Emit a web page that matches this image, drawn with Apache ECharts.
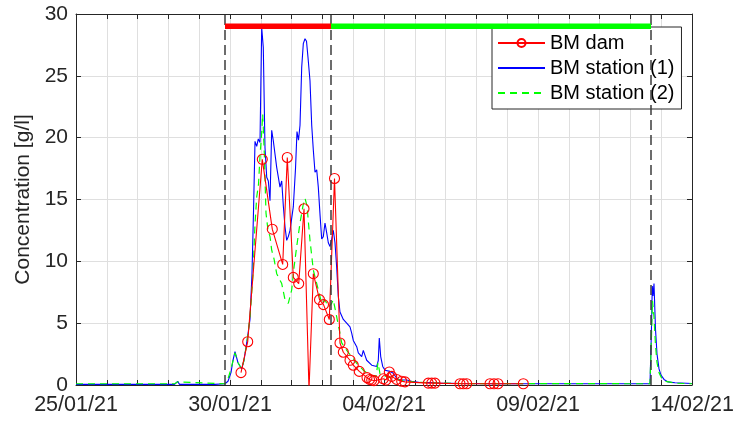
<!DOCTYPE html>
<html><head><meta charset="utf-8">
<script src="https://cdn.jsdelivr.net/npm/echarts@6/dist/echarts.min.js"></script>
<style>html,body{margin:0;padding:0;background:#fff}#c{width:737px;height:426px}</style>
</head><body><div id="c"></div>
<script>
// time values are days since 25/01/21 00:00
const xTickDays = [0, 5, 10, 15, 20];
const xTickLabels = ['25/01/21', '30/01/21', '04/02/21', '09/02/21', '14/02/21'];
const yTicks = [0, 5, 10, 15, 20, 25, 30];

const damT = [5.357, 5.575, 6.049, 6.373, 6.711, 6.860, 7.055, 7.231, 7.403, 7.565, 7.705, 7.906, 8.036, 8.224, 8.393, 8.571, 8.679, 8.896, 9.003, 9.198, 9.448, 9.529, 9.601, 9.675, 9.977, 10.065, 10.172, 10.25, 10.412, 10.575, 10.682, 11.438, 11.549, 11.656, 12.468, 12.575, 12.685, 13.442, 13.571, 13.701, 14.523];
const damV = [1.0, 3.5, 18.25, 12.6, 9.75, 18.4, 8.7, 8.2, 14.25, -0.4, 9.0, 6.9, 6.5, 5.3, 16.7, 3.4, 2.65, 2.0, 1.6, 1.1, 0.6, 0.45, 0.4, 0.35, 0.5, 0.4, 1.05, 0.7, 0.45, 0.3, 0.25, 0.15, 0.15, 0.15, 0.1, 0.1, 0.1, 0.1, 0.1, 0.1, 0.1];

const st1T = [0, 1, 2, 3.2, 3.3, 3.36, 4.5, 4.838, 4.935, 5.032, 5.097, 5.162, 5.26, 5.38, 5.455, 5.542, 5.649, 5.714, 5.763, 5.812, 5.867, 5.919, 5.974, 6.029, 6.081, 6.136, 6.192, 6.244, 6.299, 6.354, 6.406, 6.516, 6.623, 6.679, 6.731, 6.786, 6.841, 6.893, 6.948, 7.055, 7.127, 7.175, 7.224, 7.273, 7.328, 7.38, 7.435, 7.484, 7.532, 7.597, 7.653, 7.705, 7.76, 7.815, 7.867, 7.922, 7.977, 8.029, 8.084, 8.14, 8.192, 8.247, 8.302, 8.354, 8.409, 8.464, 8.516, 8.571, 8.679, 8.789, 8.896, 8.951, 9.003, 9.114, 9.166, 9.276, 9.328, 9.383, 9.438, 9.49, 9.601, 9.763, 9.815, 9.847, 9.893, 9.958, 10.032, 10.195, 10.302, 10.412, 10.519, 10.737, 10.951, 11.169, 11.494, 11.818, 12.468, 13.766, 15.065, 16.364, 17.65, 17.695, 17.74, 18.636, 18.679, 18.711, 18.734, 18.766, 18.815, 18.864, 18.929, 18.994, 19.091, 19.221, 19.448, 20];
const st1V = [0.05, 0.05, 0.05, 0.05, 0.3, 0.05, 0.05, 0.1, 0.3, 1.0, 2.0, 2.7, 1.8, 1.3, 2.0, 3.4, 5.3, 9, 14, 19.7, 19.3, 19.9, 19.6, 28.9, 27.3, 19.2, 16.8, 16.5, 14.9, 20.6, 19.75, 17.6, 16.0, 16.5, 14.5, 12.8, 11.7, 12.0, 12.5, 14.4, 17.5, 20.5, 19.8, 21, 25.7, 27.6, 28.0, 27.8, 26.5, 24.6, 21, 19.0, 17.2, 17.4, 16.0, 13.8, 11.8, 12.0, 13.1, 12.3, 11.5, 11.2, 11.8, 12.5, 11.5, 9.5, 7.2, 5.9, 5.3, 5.0, 4.7, 4.2, 3.6, 3.1, 2.6, 2.3, 2.8, 2.4, 2.0, 1.9, 1.6, 1.5, 2.0, 3.8, 2.3, 1.5, 1.2, 1.1, 0.95, 0.55, 0.4, 0.4, 0.27, 0.2, 0.2, 0.15, 0.12, 0.1, 0.1, 0.1, 0.1, 0.25, 0.1, 0.1, 4, 8.0, 7.2, 8.2, 4.5, 2.5, 1.3, 0.8, 0.45, 0.25, 0.18, 0.12];

const st2T = [0, 3.2, 3.3, 3.36, 4.838, 4.935, 5.032, 5.162, 5.26, 5.38, 5.455, 5.552, 5.649, 5.747, 5.812, 5.867, 5.925, 5.974, 6.029, 6.062, 6.114, 6.169, 6.234, 6.299, 6.354, 6.429, 6.516, 6.568, 6.679, 6.786, 6.893, 7.003, 7.078, 7.166, 7.273, 7.37, 7.435, 7.5, 7.597, 7.705, 7.76, 7.867, 7.977, 8.084, 8.192, 8.302, 8.354, 8.464, 8.549, 8.627, 8.789, 8.951, 9.114, 9.328, 9.545, 9.74, 9.805, 9.87, 10.087, 10.519, 10.94, 11.494, 12.468, 18.636, 18.679, 18.718, 18.766, 18.815, 18.864, 18.929, 19.026, 19.156, 19.448, 20];
const st2V = [0.1, 0.1, 0.25, 0.1, 0.1, 0.5, 1.3, 2.6, 1.8, 1.3, 2.0, 3.5, 5.5, 9, 13, 15.2, 16.2, 18.5, 20.4, 21.9, 18.7, 13.9, 12.5, 12.0, 10.9, 10.2, 9.0, 9.0, 8.2, 6.9, 6.6, 7.7, 9.5, 11.2, 13.1, 14.5, 15.1, 14.5, 11.7, 9.3, 8.75, 7.7, 6.6, 6.9, 6.3, 6.6, 6.9, 5.5, 4.45, 3.4, 2.8, 2.3, 1.75, 1.2, 0.8, 0.7, 1.8, 0.9, 0.67, 0.4, 0.25, 0.18, 0.12, 0.1, 3.5, 6.8, 5.5, 3.2, 1.8, 1.0, 0.5, 0.3, 0.15, 0.1];

const phaseBounds = [4.838, 8.279, 18.669];
const phaseLevel = 29;
const phaseColors = ['#ff0000', '#00ff00'];

const AX = '#262626';
const FONT = 'Liberation Sans';
const zip = (t, v) => t.map((x, i) => [x, v[i]]);

const chart = echarts.init(document.getElementById('c'), null, {renderer: 'canvas'});
const xLabel = v => { const i = xTickDays.findIndex(d => Math.abs(d - v) < 1e-6); return i < 0 ? '' : xTickLabels[i]; };

const phaseSeries = phaseColors.map((c, i) => ({
  type: 'line', name: 'phase' + i, symbol: 'none', silent: true, z: 6,
  data: [[phaseBounds[i], phaseLevel], [phaseBounds[i + 1], phaseLevel]],
  lineStyle: {color: c, width: 5.5, cap: 'butt'}
}));

chart.setOption({
  animation: false,
  grid: {left: 76, right: 45, top: 14, bottom: 41, containLabel: false},
  xAxis: [{
    type: 'value', min: 0, max: 20, interval: 1,
    axisLine: {lineStyle: {color: AX, width: 1}},
    axisTick: {inside: true, length: 5, lineStyle: {color: AX}},
    axisLabel: {formatter: xLabel, fontSize: 21.5, color: AX, fontFamily: FONT, margin: 9, showMinLabel: true, showMaxLabel: true},
    splitLine: {show: true, lineStyle: {color: '#dfdfdf', width: 1}}
  }, {
    type: 'value', min: 0, max: 20, interval: 1, position: 'top',
    axisLine: {show: true, onZero: false, lineStyle: {color: AX, width: 1}},
    axisTick: {inside: true, length: 5, lineStyle: {color: AX}},
    axisLabel: {show: false}, splitLine: {show: false}
  }],
  yAxis: [{
    type: 'value', min: yTicks[0], max: yTicks[yTicks.length - 1], interval: 5,
    name: 'Concentration [g/l]', nameLocation: 'middle', nameGap: 42,
    nameTextStyle: {fontSize: 21, color: AX, fontFamily: FONT},
    axisLine: {show: true, lineStyle: {color: AX, width: 1}},
    axisTick: {show: true, inside: true, length: 5, lineStyle: {color: AX}},
    axisLabel: {fontSize: 21, color: AX, fontFamily: FONT, margin: 8},
    splitLine: {show: true, lineStyle: {color: '#dfdfdf', width: 1}}
  }, {
    type: 'value', min: yTicks[0], max: yTicks[yTicks.length - 1], interval: 5, position: 'right',
    axisLine: {show: true, onZero: false, lineStyle: {color: AX, width: 1}},
    axisTick: {show: true, inside: true, length: 5, lineStyle: {color: AX}},
    axisLabel: {show: false}, splitLine: {show: false}
  }],
  legend: {
    left: 492, top: 27, orient: 'vertical',
    itemWidth: 47, itemHeight: 10, itemGap: 5,
    padding: [6, 7, 6, 5],
    backgroundColor: '#fff', borderColor: AX, borderWidth: 1, borderRadius: 0,
    textStyle: {fontSize: 20, color: '#000', fontFamily: FONT},
    data: [
      {name: 'BM dam'},
      {name: 'BM station (1)', itemStyle: {color: 'rgba(0,0,0,0)', borderWidth: 0}},
      {name: 'BM station (2)', itemStyle: {color: 'rgba(0,0,0,0)', borderWidth: 0}}
    ]
  },
  series: [
    {
      type: 'line', name: 'BM station (1)', data: zip(st1T, st1V), symbol: 'none', clip: true, z: 3,
      lineStyle: {color: '#0000ff', width: 1.1}, itemStyle: {color: '#0000ff'}
    },
    {
      type: 'line', name: 'BM station (2)', data: zip(st2T, st2V), symbol: 'none', clip: true, z: 3,
      lineStyle: {color: '#00ff00', width: 1.2, type: [7, 5]}, itemStyle: {color: '#00ff00'}
    },
    {
      type: 'line', name: 'BM dam', data: zip(damT, damV), symbol: 'circle', symbolSize: 10, clip: true, z: 4,
      lineStyle: {color: '#ff0000', width: 1.1},
      itemStyle: {color: 'rgba(255,255,255,0)', borderColor: '#ff0000', borderWidth: 1.1}
    },
    ...phaseSeries,
    {
      type: 'line', name: 'bounds', data: [], silent: true, z: 5,
      markLine: {
        silent: true, symbol: 'none', label: {show: false},
        lineStyle: {color: '#3c3c3c', width: 1.5, type: [10, 5]},
        data: phaseBounds.map(d => ({xAxis: d}))
      }
    }
  ]
});
</script></body></html>
